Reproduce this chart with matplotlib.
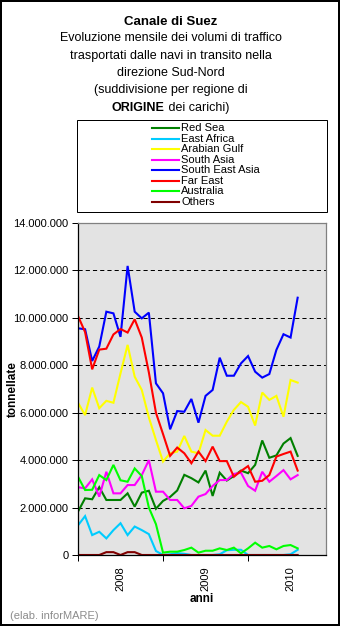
import matplotlib
matplotlib.use('Agg')
import matplotlib.pyplot as plt
from matplotlib.lines import Line2D
from matplotlib.patches import Rectangle
from matplotlib.ticker import FixedLocator, FuncFormatter

plt.rcParams['font.family'] = ['Liberation Sans', 'DejaVu Sans']
plt.rcParams['lines.scale_dashes'] = False

W, H, DPI = 341, 626, 100

# ---------------- data (million tonnes), monthly Jul 2007 .. Feb 2010 ----------------
months = list(range(32))
year_labels = ['2008', '2009', '2010']
year_label_pos = [6, 18, 30]
year_tick_pos = [0, 12, 24]
y_ticks = [0, 2, 4, 6, 8, 10, 12, 14]

series_names = ['Red Sea', 'East Africa', 'Arabian Gulf', 'South Asia',
                'South East Asia', 'Far East', 'Australia', 'Others']
series_colors = ['#008000', '#00CCFF', '#FFFF00', '#FF00FF',
                 '#0000FF', '#FF0000', '#00FF00', '#800000']

red_sea = [1.83, 2.39, 2.35, 2.86, 2.32, 2.32, 2.32, 2.60, 2.04, 2.63, 2.71, 1.95,
           2.28, 2.45, 2.72, 3.38, 3.24, 3.06, 3.56, 2.49, 3.47, 3.14, 3.33, 3.56,
           3.45, 3.80, 4.83, 4.10, 4.20, 4.70, 4.93, 4.18]
east_africa = [1.25, 1.64, 0.84, 0.98, 0.70, 1.05, 1.34, 0.84, 1.20, 1.05, 0.88, 0.17,
               0.00, 0.03, 0.08, 0.05, 0.00, 0.00, 0.00, 0.00, 0.03, 0.20, 0.22, 0.22,
               0.00, 0.00, 0.00, 0.00, 0.00, 0.00, 0.03, 0.22]
arabian_gulf = [6.42, 5.90, 7.06, 6.19, 6.50, 6.42, 7.66, 8.86, 7.52, 6.96, 5.80, 4.85,
                3.94, 4.29, 4.36, 5.02, 4.36, 4.29, 5.27, 5.03, 5.03, 5.62, 6.12, 6.45,
                6.25, 5.46, 6.85, 6.54, 6.71, 5.83, 7.38, 7.27]
south_asia = [2.86, 2.81, 3.19, 2.46, 3.51, 2.60, 2.60, 2.95, 2.95, 3.37, 4.00, 2.67,
              2.67, 2.32, 2.32, 1.97, 2.07, 2.46, 2.57, 2.91, 3.16, 3.16, 3.42, 3.47,
              2.91, 2.71, 3.51, 3.09, 3.33, 3.58, 3.19, 3.37]
south_east_asia = [9.56, 9.52, 8.18, 8.79, 10.26, 10.19, 9.20, 12.19, 10.26, 9.98, 10.22, 7.24,
                   6.82, 5.30, 6.07, 6.04, 6.58, 5.58, 6.71, 6.96, 8.32, 7.56, 7.56, 8.08,
                   8.39, 7.73, 7.48, 7.63, 8.65, 9.31, 9.17, 10.85]
far_east = [10.08, 9.40, 7.83, 8.66, 8.70, 9.30, 9.53, 9.38, 9.94, 9.17, 7.70, 6.00,
            5.10, 4.18, 4.53, 4.29, 3.87, 4.36, 3.96, 4.57, 3.96, 3.96, 3.30, 3.54,
            3.75, 3.09, 3.13, 3.37, 4.15, 4.26, 4.36, 3.56]
australia = [3.30, 2.74, 2.75, 3.37, 3.16, 3.80, 3.15, 3.09, 3.65, 3.33, 2.00, 1.30,
             0.10, 0.14, 0.14, 0.21, 0.31, 0.10, 0.18, 0.18, 0.28, 0.21, 0.31, 0.07,
             0.28, 0.52, 0.31, 0.38, 0.24, 0.38, 0.42, 0.28]
others = [0.00, 0.00, 0.00, 0.00, 0.12, 0.12, 0.00, 0.12, 0.12, 0.00, 0.00, 0.00,
          0.00, 0.00, 0.00, 0.00, 0.00, 0.00, 0.00, 0.00, 0.00, 0.00, 0.00, 0.00,
          0.00, 0.00, 0.00, 0.00, 0.00, 0.00, 0.00, 0.00]

all_series = [red_sea, east_africa, arabian_gulf, south_asia,
              south_east_asia, far_east, australia, others]

# ---------------- helpers for pixel placement ----------------
def fx(px):
    return px / W

def fy(py):
    return 1 - py / H

fig = plt.figure(figsize=(W / DPI, H / DPI), dpi=DPI)
fig.patch.set_facecolor('white')

# outer frame
fig.add_artist(Rectangle((fx(1), fy(625)), fx(339) - fx(1), fy(1) - fy(625),
                         transform=fig.transFigure, fill=False, edgecolor='black',
                         linewidth=1.44))

# ---------------- title ----------------
title_lines = ['Evoluzione mensile dei volumi di traffico',
               'trasportati dalle navi in transito nella',
               'direzione Sud-Nord',
               '(suddivisione per regione di']
fig.text(fx(170.5), fy(25), 'Canale di Suez', ha='center', va='baseline',
         fontsize=9.5, fontweight='bold')
for k, line in enumerate(title_lines):
    fig.text(fx(170.5), fy(41 + 17.5 * k), line, ha='center', va='baseline', fontsize=9)

# last line: bold "ORIGINE" + regular " dei carichi)"
renderer = fig.canvas.get_renderer()
t_bold = fig.text(0, fy(111), 'ORIGINE', ha='left', va='baseline',
                  fontsize=9, fontweight='bold')
t_reg = fig.text(0, fy(111), ' dei carichi)', ha='left', va='baseline', fontsize=9)
wb = t_bold.get_window_extent(renderer).width
wr = t_reg.get_window_extent(renderer).width
x0 = 170.5 - (wb + wr) / 2
t_bold.set_x(fx(x0))
t_reg.set_x(fx(x0 + wb))

# ---------------- legend box ----------------
fig.add_artist(Rectangle((fx(77), fy(212)), fx(327) - fx(77), fy(120) - fy(212),
                         transform=fig.transFigure, fill=False, edgecolor='black',
                         linewidth=0.72))
for k, (name, col) in enumerate(zip(series_names, series_colors)):
    yy = 128.3 + 10.46 * k
    fig.add_artist(Line2D([fx(152), fx(179)], [fy(yy), fy(yy)],
                          transform=fig.transFigure, color=col, linewidth=1.5))
    fig.text(fx(181), fy(yy), name, ha='left', va='center', fontsize=8)

# ---------------- axes ----------------
ax_left, ax_right, ax_top, ax_bottom = 78, 326, 223, 555
ax = fig.add_axes([fx(ax_left), fy(ax_bottom), fx(ax_right) - fx(ax_left),
                   fy(ax_top) - fy(ax_bottom)])
ax.set_facecolor('#E3E3E3')
for data, col in zip(all_series, series_colors):
    ax.plot(months, data, color=col, linewidth=1.5, solid_joinstyle='miter')

ax.set_xlim(0, 35)
ax.set_ylim(0, 14)

ax.yaxis.set_major_locator(FixedLocator(y_ticks))
ax.yaxis.set_major_formatter(FuncFormatter(
    lambda v, p: '0' if v == 0 else f"{int(round(v * 1e6)):,}".replace(',', '.')))
ax.tick_params(axis='y', direction='out', length=4, width=0.72, labelsize=8, pad=3,
               colors='black')
for v in y_ticks[1:-1]:
    ax.axhline(v, color='black', linewidth=0.72, linestyle=(0, (3.0, 2.2)), zorder=1.5)

ax.xaxis.set_major_locator(FixedLocator(year_tick_pos))
ax.xaxis.set_major_formatter(FuncFormatter(lambda v, p: ''))
ax.xaxis.set_minor_locator(FixedLocator(year_label_pos))
ax.xaxis.set_minor_formatter(FuncFormatter(
    lambda v, p: year_labels[year_label_pos.index(int(round(v)))]))
ax.tick_params(axis='x', which='major', direction='out', length=4, width=0.72)
ax.tick_params(axis='x', which='minor', length=0, labelsize=8, labelrotation=90, pad=8)

ax.spines['left'].set_color('black')
ax.spines['bottom'].set_color('black')
ax.spines['top'].set_color('#808080')
ax.spines['right'].set_color('#808080')
for s in ax.spines.values():
    s.set_linewidth(0.9)

ax.set_ylabel('tonnellate', fontsize=8.5, fontweight='bold')
ax.yaxis.set_label_coords((13 - ax_left) / (ax_right - ax_left), 0.5)
ax.yaxis.label.set_verticalalignment('center')
ax.set_xlabel('anni', fontsize=8.5, fontweight='bold')
ax.xaxis.set_label_coords((202 - ax_left) / (ax_right - ax_left),
                          -(599 - ax_bottom) / (ax_bottom - ax_top))
ax.xaxis.label.set_verticalalignment('center')

fig.text(fx(10), fy(619), '(elab. inforMARE)', ha='left', va='baseline',
         fontsize=8, color='#8C8C8C')

fig.savefig('out.png', dpi=DPI)
